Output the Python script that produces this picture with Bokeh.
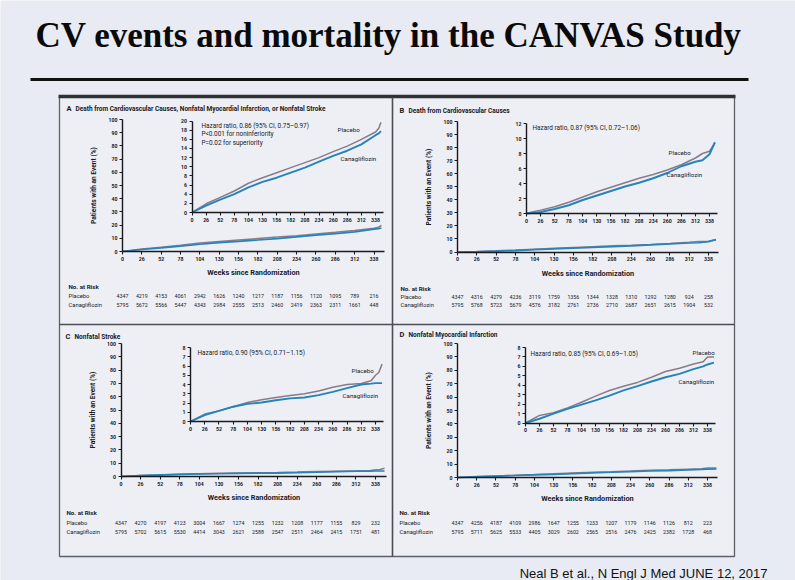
from bokeh.plotting import figure
from bokeh.models import Range1d, LinearAxis, FixedTicker
from bokeh.embed import file_html
from bokeh.resources import INLINE
from bokeh.core.properties import value

# ---------------- data ----------------
week_ticks = [0, 26, 52, 78, 104, 130, 156, 182, 208, 234, 260, 286, 312, 338]

weeks_A = [0, 26, 52, 78, 104, 130, 156, 182, 208, 234, 260, 286, 312, 338, 344, 348]
placebo_A = [0, 1.9, 3.3, 4.7, 6.4, 7.6, 8.7, 9.8, 10.9, 12.0, 13.3, 14.5, 16.0, 17.6, 18.4, 19.7]
canag_A = [0, 1.5, 2.8, 4.0, 5.5, 6.7, 7.6, 8.7, 9.8, 11.1, 12.4, 13.5, 14.9, 16.9, 17.3, 17.8]

weeks_B = [0, 10, 26, 52, 78, 104, 130, 156, 182, 208, 234, 260, 286, 312, 325, 338, 348]
placebo_B = [0, 0.2, 0.45, 0.9, 1.5, 2.2, 2.9, 3.5, 4.1, 4.7, 5.2, 5.8, 6.5, 7.4, 8.0, 8.3, 9.4]
canag_B = [0, 0.05, 0.2, 0.6, 1.1, 1.8, 2.4, 3.0, 3.6, 4.1, 4.7, 5.4, 6.3, 6.9, 7.1, 7.9, 9.5]

weeks_C = [0, 26, 52, 78, 104, 130, 156, 182, 208, 234, 260, 286, 312, 330, 338, 344, 350]
placebo_C = [0, 0.8, 1.15, 1.6, 2.05, 2.35, 2.6, 2.8, 3.0, 3.3, 3.7, 4.0, 4.1, 4.4, 5.0, 5.3, 6.2]
canag_C = [0, 0.7, 1.15, 1.6, 1.9, 2.05, 2.3, 2.5, 2.6, 2.85, 3.2, 3.6, 4.0, 4.1, 4.15, 4.15, 4.15]

weeks_D = [0, 26, 52, 78, 104, 130, 156, 182, 208, 234, 260, 286, 312, 330, 338, 350]
placebo_D = [0, 0.8, 1.1, 1.6, 2.2, 2.85, 3.45, 3.9, 4.3, 4.85, 5.45, 5.8, 6.25, 6.5, 7.0, 7.0]
canag_D = [0, 0.45, 1.0, 1.5, 1.95, 2.4, 2.9, 3.45, 3.9, 4.4, 4.85, 5.2, 5.7, 6.0, 6.2, 6.4]

risk_placebo_A = [4347, 4219, 4153, 4061, 2942, 1626, 1240, 1217, 1187, 1156, 1120, 1095, 789, 216]
risk_canag_A = [5795, 5672, 5566, 5447, 4343, 2984, 2555, 2513, 2460, 2419, 2363, 2311, 1661, 448]
risk_placebo_B = [4347, 4316, 4279, 4236, 3119, 1759, 1356, 1344, 1328, 1310, 1292, 1280, 924, 258]
risk_canag_B = [5795, 5768, 5723, 5679, 4576, 3182, 2761, 2736, 2710, 2687, 2651, 2615, 1904, 532]
risk_placebo_C = [4347, 4270, 4197, 4123, 3004, 1667, 1274, 1255, 1232, 1208, 1177, 1155, 829, 232]
risk_canag_C = [5795, 5702, 5615, 5530, 4414, 3043, 2621, 2588, 2547, 2511, 2464, 2415, 1751, 481]
risk_placebo_D = [4347, 4256, 4187, 4109, 2986, 1647, 1255, 1233, 1207, 1179, 1146, 1126, 812, 223]
risk_canag_D = [5795, 5711, 5625, 5533, 4405, 3029, 2602, 2565, 2516, 2476, 2425, 2382, 1728, 468]

titles = {
    "A": "Death from Cardiovascular Causes, Nonfatal Myocardial Infarction, or Nonfatal Stroke",
    "B": "Death from Cardiovascular Causes",
    "C": "Nonfatal Stroke",
    "D": "Nonfatal Myocardial Infarction",
}
hazard_texts = {
    "A": ["Hazard ratio, 0.86 (95% CI, 0.75\u20130.97)", "P<0.001 for noninferiority", "P=0.02 for superiority"],
    "B": ["Hazard ratio, 0.87 (95% CI, 0.72\u20131.06)"],
    "C": ["Hazard ratio, 0.90 (95% CI, 0.71\u20131.15)"],
    "D": ["Hazard ratio, 0.85 (95% CI, 0.69\u20131.05)"],
}
inset_tops = {"A": 20, "B": 12, "C": 8, "D": 8}
inset_steps = {"A": 2, "B": 2, "C": 1, "D": 1}

series = {
    "A": (weeks_A, placebo_A, canag_A, risk_placebo_A, risk_canag_A),
    "B": (weeks_B, placebo_B, canag_B, risk_placebo_B, risk_canag_B),
    "C": (weeks_C, placebo_C, canag_C, risk_placebo_C, risk_canag_C),
    "D": (weeks_D, placebo_D, canag_D, risk_placebo_D, risk_canag_D),
}

# ---------------- layout (page pixel geometry) ----------------
W, H = 795, 580
X0, X1 = 0, W
Y0, Y1 = 0, H

geo = {
    # main_x: px of week 0 / 338 ; main_y: py of 0 / 100 ; inset likewise
    "A": dict(main_x=(122, 373.5), main_y=(251, 119), inset_x=(191.5, 375), inset_y=(212, 120.5),
              title=(66, 108), risk=(68, 286, 295, 304), haz=(201, 125),
              lab_p=(337, 129), lab_c=(340, 158)),
    "B": dict(main_x=(457, 708), main_y=(251.5, 121), inset_x=(526, 709), inset_y=(213, 123),
              title=(399, 110), risk=(400, 288, 296, 304), haz=(532, 127),
              lab_p=(668, 152), lab_c=(666, 174)),
    "C": dict(main_x=(120.5, 375), main_y=(476, 343), inset_x=(190, 375), inset_y=(421, 347),
              title=(65, 336), risk=(66, 512, 522, 531), haz=(197, 352),
              lab_p=(351, 370), lab_c=(342, 395)),
    "D": dict(main_x=(457, 707), main_y=(477, 343), inset_x=(525, 707), inset_y=(422.5, 347),
              title=(399, 334), risk=(399, 512, 522, 531), haz=(530, 353),
              lab_p=(692, 352), lab_c=(678, 381)),
}

BG = "#e8ebf4"
PANEL_BG = "#edeff5"
INK = "#1a1a1e"
PLACEBO_C = "#8a7b8c"
CANAG_C = "#2584b8"
FONT = "Roboto"


def xrange_for(d0, d1, s0, s1):
    k = (d1 - d0) / (s1 - s0)
    return Range1d(d0 + (X0 - s0) * k, d0 + (X1 - s0) * k)


def yrange_for(d0, d1, p0, p1):
    k = (d1 - d0) / (p1 - p0)
    return Range1d(d0 + (Y1 - p0) * k, d0 + (Y0 - p0) * k)


p = figure(width=W, height=H, x_range=Range1d(X0, X1), y_range=Range1d(Y1, Y0),
           x_axis_type=None, y_axis_type=None, toolbar_location=None,
           output_backend="svg", min_border=0,
           background_fill_color=BG, border_fill_color=BG, outline_line_color=None)

# slide title and rule
p.text(x=[35], y=[35], text=["CV events and mortality in the CANVAS Study"],
       text_font=value("Liberation Serif"), text_font_style="bold",
       text_font_size=value("35px"), text_color="#0a0a0a", text_baseline="alphabetic")
p.segment(x0=[30], y0=[79], x1=[748], y1=[79], line_width=3, line_color="#111111")

# panel frame
p.quad(left=[59], right=[734], top=[96], bottom=[556], fill_color=PANEL_BG,
       line_color="#5c6068", line_width=1.3)
p.segment(x0=[58], y0=[96], x1=[735], y1=[96], line_width=3.5, line_color="#2f3034")
p.segment(x0=[392, 59], y0=[97, 324], x1=[392, 734], y1=[556, 324], line_width=1.6,
          line_color="#4a4d55")

# footer
p.text(x=[767], y=[573], text=["Neal B et al., N Engl J Med JUNE 12, 2017"],
       text_font=value("Liberation Sans"), text_font_size=value("13px"),
       text_color="#111111", text_align="right", text_baseline="alphabetic")

xr, yr = {}, {}


def style_axis(ax, fs="5.2px"):
    ax.axis_line_color = INK
    ax.axis_line_width = 1.4
    ax.major_tick_line_color = INK
    ax.major_tick_line_width = 1.1
    ax.major_tick_out = 3
    ax.major_tick_in = 0
    ax.minor_tick_out = 0
    ax.minor_tick_in = 0
    ax.major_label_text_font = FONT
    ax.major_label_text_font_style = "bold"
    ax.major_label_text_font_size = fs
    ax.major_label_text_color = INK
    ax.major_label_standoff = 2
    ax.axis_label_text_font = FONT
    ax.axis_label_text_font_style = "bold"
    ax.axis_label_text_font_size = "7.3px"
    ax.axis_label_text_color = INK


for k, g in geo.items():
    mx, my, ix, iy = k + "mx", k + "my", k + "ix", k + "iy"
    xr[mx] = xrange_for(0, 338, *g["main_x"])
    yr[my] = yrange_for(0, 100, *g["main_y"])
    xr[ix] = xrange_for(0, 338, *g["inset_x"])
    yr[iy] = yrange_for(0, inset_tops[k], *g["inset_y"])

    # main axes
    axx = LinearAxis(x_range_name=mx, y_range_name=my, fixed_location=0, bounds=(0, 352),
                     ticker=FixedTicker(ticks=week_ticks), axis_label="Weeks since Randomization")
    style_axis(axx)
    axx.axis_label_standoff = 4
    p.add_layout(axx, "below")
    axy = LinearAxis(x_range_name=mx, y_range_name=my, fixed_location=0, bounds=(0, 100),
                     ticker=FixedTicker(ticks=list(range(0, 101, 10))),
                     axis_label="Patients with an Event (%)")
    style_axis(axy)
    axy.axis_label_standoff = 8
    axy.axis_label_text_font_size = "6.6px"
    p.add_layout(axy, "left")

    # inset axes
    iax = LinearAxis(x_range_name=ix, y_range_name=iy, fixed_location=0, bounds=(0, 352),
                     ticker=FixedTicker(ticks=week_ticks))
    style_axis(iax)
    p.add_layout(iax, "below")
    iay = LinearAxis(x_range_name=ix, y_range_name=iy, fixed_location=0, bounds=(0, inset_tops[k]),
                     ticker=FixedTicker(ticks=list(range(0, inset_tops[k] + 1, inset_steps[k]))))
    style_axis(iay)
    p.add_layout(iay, "left")

p.extra_x_ranges = xr
p.extra_y_ranges = yr

for k, g in geo.items():
    weeks, plac, canag, rp, rc = series[k]
    mx, my, ix, iy = k + "mx", k + "my", k + "ix", k + "iy"
    # curves in main plot
    p.line(weeks, plac, x_range_name=mx, y_range_name=my, line_color=PLACEBO_C, line_width=1.5)
    p.line(weeks, canag, x_range_name=mx, y_range_name=my, line_color=CANAG_C, line_width=1.7)
    # curves in inset
    p.line(weeks, plac, x_range_name=ix, y_range_name=iy, line_color=PLACEBO_C, line_width=1.5)
    p.line(weeks, canag, x_range_name=ix, y_range_name=iy, line_color=CANAG_C, line_width=1.9)

    # panel title
    tx, ty = g["title"]
    p.text(x=[tx], y=[ty], text=[k], text_font=value(FONT), text_font_style="bold",
           text_font_size=value("7.5px"), text_color=INK, text_baseline="middle")
    p.text(x=[tx + 9], y=[ty], text=[titles[k]], text_font=value(FONT), text_font_style="bold",
           text_font_size=value("6.5px"), text_color=INK, text_baseline="middle")

    # hazard text
    hx, hy = g["haz"]
    lines = hazard_texts[k]
    p.text(x=[hx] * len(lines), y=[hy + 8.5 * i for i in range(len(lines))], text=lines,
           text_font=value(FONT), text_font_size=value("6.4px"), text_color=INK,
           text_baseline="middle")

    # curve labels
    p.text(x=[g["lab_p"][0]], y=[g["lab_p"][1]], text=["Placebo"], text_font=value(FONT),
           text_font_size=value("6.2px"), text_color=INK, text_baseline="middle")
    p.text(x=[g["lab_c"][0]], y=[g["lab_c"][1]], text=["Canagliflozin"], text_font=value(FONT),
           text_font_size=value("6.2px"), text_color=INK, text_baseline="middle")

    # risk table
    rx, ry0, ry1, ry2 = g["risk"]
    p.text(x=[rx], y=[ry0], text=["No. at Risk"], text_font=value(FONT), text_font_style="bold",
           text_font_size=value("6.2px"), text_color=INK, text_baseline="middle")
    p.text(x=[rx, rx], y=[ry1, ry2], text=["Placebo", "Canagliflozin"], text_font=value(FONT),
           text_font_size=value("5.8px"), text_color=INK, text_baseline="middle")
    p.text(x=week_ticks, y=[ry1] * len(week_ticks), text=[str(v) for v in rp],
           x_range_name=mx, text_font=value(FONT), text_font_size=value("5.3px"),
           text_color=INK, text_align="center", text_baseline="middle")
    p.text(x=week_ticks, y=[ry2] * len(week_ticks), text=[str(v) for v in rc],
           x_range_name=mx, text_font=value(FONT), text_font_size=value("5.3px"),
           text_color=INK, text_align="center", text_baseline="middle")

open("out.html", "w").write(file_html(p, INLINE))
